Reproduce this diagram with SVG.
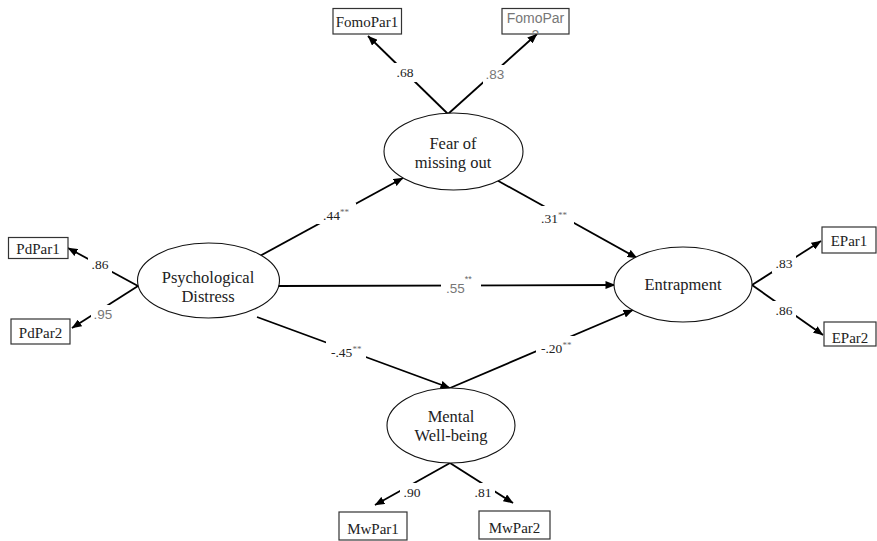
<svg xmlns="http://www.w3.org/2000/svg" width="877" height="541" viewBox="0 0 877 541">
<style>
.lat{fill:#fff;stroke:#111;stroke-width:1.1}
.box{fill:#fff;stroke:#333;stroke-width:1.2}
.t{font-family:"Liberation Serif","Times New Roman",serif;fill:#222}
.ln{font-size:16.5px;text-anchor:middle}
.bx{font-size:15px;text-anchor:middle}
.num{font-family:"Liberation Serif","Times New Roman",serif;font-size:13.5px;fill:#222}
.g{font-family:"Liberation Sans",Arial,sans-serif;fill:#777}
.st{font-size:9px;fill:#666}
.bg{fill:#fff;stroke:none}
.c{stroke:#000;stroke-width:1.8;fill:none;marker-end:url(#ah)}
</style>
<defs>
<marker id="ah" viewBox="0 0 10 8" refX="9.5" refY="4" markerWidth="10" markerHeight="8" markerUnits="userSpaceOnUse" orient="auto">
<path d="M0,0 L10,4 L0,8 z" fill="#000"/>
</marker>
<clipPath id="fp2"><rect x="502" y="8" width="67" height="26"/></clipPath>
</defs>
<g id="connectors">
<line class="c" x1="448" y1="114" x2="368" y2="36"/>
<line class="c" x1="448" y1="114" x2="537" y2="34"/>
<line class="c" x1="138" y1="286" x2="68" y2="248"/>
<line class="c" x1="138" y1="286" x2="72" y2="328"/>
<line class="c" x1="752" y1="285" x2="821" y2="241"/>
<line class="c" x1="752" y1="285" x2="823" y2="335"/>
<line class="c" x1="450" y1="463" x2="375" y2="505"/>
<line class="c" x1="450" y1="463" x2="513" y2="503"/>
<line class="c" x1="258" y1="257" x2="403" y2="178"/>
<line class="c" x1="493" y1="178" x2="637" y2="258"/>
<line class="c" x1="278" y1="286" x2="615" y2="285"/>
<line class="c" x1="257" y1="317" x2="450" y2="388"/>
<line class="c" x1="450" y1="388" x2="633" y2="310"/>
</g>
<g id="labels">
<rect class="bg" x="393" y="63" width="24" height="19"/>
<rect class="bg" x="483" y="65" width="24" height="19"/>
<rect class="bg" x="88" y="255" width="24" height="19"/>
<rect class="bg" x="91" y="305" width="24" height="19"/>
<rect class="bg" x="772" y="254" width="24" height="19"/>
<rect class="bg" x="772" y="301" width="24" height="19"/>
<rect class="bg" x="400" y="483" width="24" height="19"/>
<rect class="bg" x="471" y="483" width="24" height="19"/>
<rect class="bg" x="317" y="203" width="39" height="21"/>
<rect class="bg" x="536" y="206" width="38" height="21"/>
<rect class="bg" x="441" y="274" width="40" height="23"/>
<rect class="bg" x="326" y="340" width="40" height="21"/>
<rect class="bg" x="536" y="336" width="40" height="21"/>
<text class="num" x="405" y="77" text-anchor="middle">.68</text>
<text class="num g" x="495" y="79" text-anchor="middle" font-size="13px">.83</text>
<text class="num" x="100" y="269" text-anchor="middle">.86</text>
<text class="num g" x="103" y="319" text-anchor="middle" font-size="12.5px">.95</text>
<text class="num" x="784" y="268" text-anchor="middle">.83</text>
<text class="num" x="784" y="315" text-anchor="middle">.86</text>
<text class="num" x="412" y="497" text-anchor="middle">.90</text>
<text class="num" x="483" y="497" text-anchor="middle">.81</text>
<text class="num" x="323" y="220" font-size="14.5px">.44<tspan class="st" dy="-5">**</tspan></text>
<text class="num" x="541" y="223" font-size="14.5px">.31<tspan class="st" dy="-5">**</tspan></text>
<text class="num g" x="446" y="293" font-size="14.5px">.55<tspan class="st" dy="-11">**</tspan></text>
<text class="num" x="331" y="357" font-size="14.5px">-.45<tspan class="st" dy="-5">**</tspan></text>
<text class="num" x="541" y="353" font-size="14.5px">-.20<tspan class="st" dy="-5">**</tspan></text>
</g>
<g id="fomo">
<ellipse class="lat" cx="453.5" cy="151.5" rx="69.5" ry="38.5"/>
<text class="t ln" x="453" y="149">Fear of</text>
<text class="t ln" x="453" y="168">missing out</text>
</g>
<g id="psych">
<ellipse class="lat" cx="208.5" cy="280.5" rx="71" ry="37.5"/>
<text class="t ln" x="208" y="283">Psychological</text>
<text class="t ln" x="208" y="302">Distress</text>
</g>
<g id="entrap">
<ellipse class="lat" cx="683" cy="284.5" rx="69" ry="37.5"/>
<text class="t ln" x="683" y="290">Entrapment</text>
</g>
<g id="mwb">
<ellipse class="lat" cx="451" cy="425.5" rx="64" ry="37.5"/>
<text class="t ln" x="451" y="422">Mental</text>
<text class="t ln" x="451" y="441">Well-being</text>
</g>
<g id="FomoPar1">
<rect class="box" x="333" y="8.5" width="68.5" height="25.5"/>
<text class="t bx" x="367" y="27">FomoPar1</text>
</g>
<g id="FomoPar2">
<rect class="box" x="502" y="8.5" width="67" height="25.5" stroke="#666"/>
<g clip-path="url(#fp2)">
<text class="g" x="535.5" y="23" font-size="14px" text-anchor="middle">FomoPar</text>
<text class="g" x="535.5" y="40" font-size="14px" text-anchor="middle">2</text>
</g>
</g>
<g id="PdPar1">
<rect class="box" x="8.5" y="237.5" width="59.5" height="21"/>
<text class="t bx" x="38" y="254">PdPar1</text>
</g>
<g id="PdPar2">
<rect class="box" x="11" y="319" width="59" height="25"/>
<text class="t bx" x="40.5" y="338">PdPar2</text>
</g>
<g id="EPar1">
<rect class="box" x="822" y="227" width="54" height="26"/>
<text class="t bx" x="849" y="246">EPar1</text>
</g>
<g id="EPar2">
<rect class="box" x="824" y="322" width="52" height="24"/>
<text class="t bx" x="850" y="343">EPar2</text>
</g>
<g id="MwPar1">
<rect class="box" x="339" y="512" width="68" height="28"/>
<text class="t bx" x="373" y="534">MwPar1</text>
</g>
<g id="MwPar2">
<rect class="box" x="479" y="511" width="71" height="28"/>
<text class="t bx" x="514.5" y="533">MwPar2</text>
</g>
</svg>
